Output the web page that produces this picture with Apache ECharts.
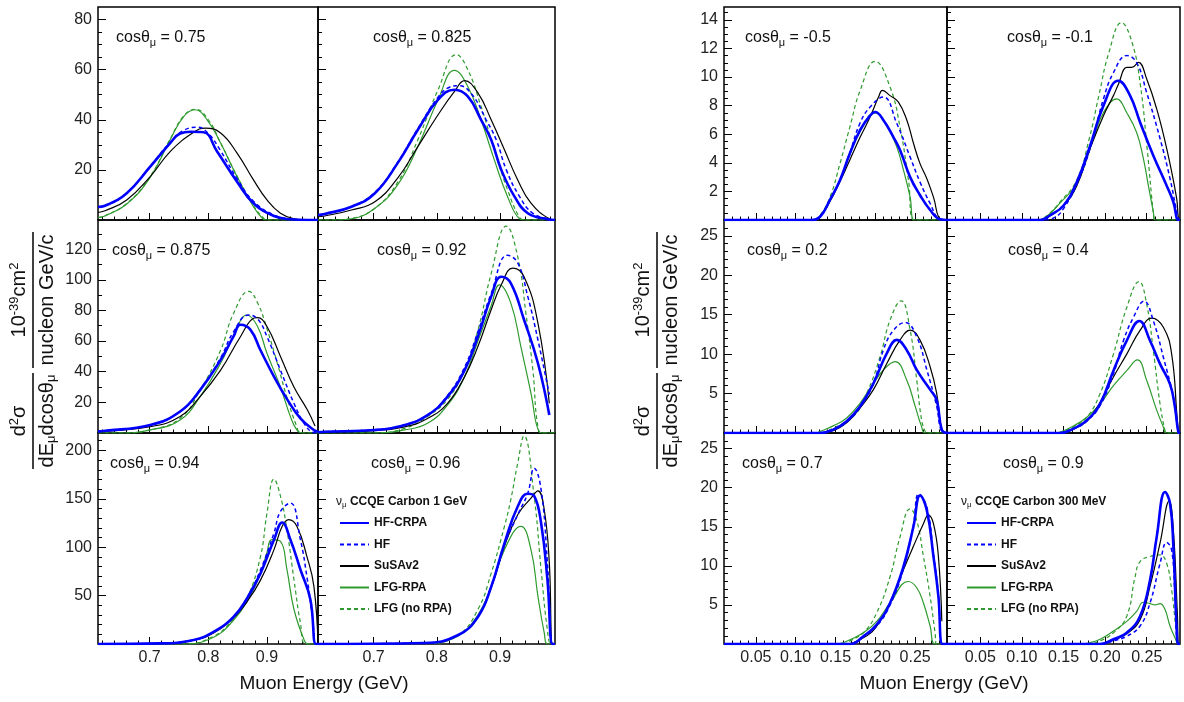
<!DOCTYPE html>
<html><head><meta charset="utf-8">
<script src="https://cdn.jsdelivr.net/npm/echarts@6/dist/echarts.min.js"></script>
<style>html,body{margin:0;padding:0;background:#fff}#c{width:1184px;height:702px}</style>
</head><body><div id="c"></div><script>
// ---------------- DATA ----------------
const models = ['HF-CRPA', 'HF', 'SuSAv2', 'LFG-RPA', 'LFG (no RPA)'];
const leftCos = ['0.75', '0.825', '0.875', '0.92', '0.94', '0.96'];
const rightCos = ['-0.5', '-0.1', '0.2', '0.4', '0.7', '0.9'];
const leftXLabels = [0.7, 0.8, 0.9];
const rightXLabels = [0.05, 0.10, 0.15, 0.20, 0.25];
const leftYLabels = [[20, 40, 60, 80], [20, 40, 60, 80, 100, 120], [50, 100, 150, 200]];
const rightYLabels = [[2, 4, 6, 8, 10, 12, 14], [5, 10, 15, 20, 25], [5, 10, 15, 20, 25]];
const leftLegendTitle = 'CCQE Carbon 1 GeV';
const rightLegendTitle = 'CCQE Carbon 300 MeV';

// 1 GeV, cos = 0.75  [E (GeV), d2sigma]
const c075 = [
  [[0.612,5.2],[0.624,5.7],[0.661,10.7],[0.701,21.3],[0.735,30.7],[0.752,34.5],[0.77,35.2],[0.792,35],[0.815,27.3],[0.849,15.3],[0.877,6.7],[0.912,1.6],[0.94,0.3],[0.97,0],[0.987,0]],
  [[0.612,5.2],[0.624,5.7],[0.661,10.8],[0.701,21.5],[0.735,31],[0.76,36],[0.782,37],[0.80,34.5],[0.82,28],[0.849,16.5],[0.877,7.5],[0.912,2],[0.94,0.4],[0.97,0],[0.987,0]],
  [[0.612,3],[0.624,3.7],[0.661,8],[0.701,17.3],[0.735,27.3],[0.775,35],[0.795,36.7],[0.821,34.7],[0.849,26.7],[0.877,16],[0.9,8],[0.923,2.7],[0.946,0.5],[0.97,0],[0.987,0]],
  [[0.612,1],[0.624,1.6],[0.661,6.4],[0.70,16.7],[0.735,32],[0.758,41.3],[0.777,44],[0.798,40],[0.821,30.7],[0.849,17.3],[0.877,5.3],[0.893,0.5],[0.90,0],[0.987,0]],
  [[0.612,1],[0.624,1.7],[0.661,6.6],[0.70,17],[0.735,32.3],[0.758,41.5],[0.778,44.2],[0.80,40],[0.822,30.3],[0.849,17.5],[0.877,5.8],[0.895,0.5],[0.90,0],[0.987,0]]
];
const c0825 = [
  [[0.612,2],[0.6225,2.4],[0.665,5.3],[0.702,10.7],[0.738,22.7],[0.77,36],[0.802,48],[0.828,52],[0.849,49.3],[0.87,40],[0.886,32],[0.902,20],[0.923,9.3],[0.944,2.7],[0.975,0.3],[0.987,0]],
  [[0.612,2],[0.6225,2.4],[0.665,5.4],[0.702,11],[0.738,23],[0.77,36.5],[0.802,49],[0.82,53],[0.835,53.6],[0.856,50],[0.878,40],[0.894,32],[0.91,20],[0.931,9.3],[0.952,2.7],[0.98,0.2],[0.987,0]],
  [[0.612,1.3],[0.6225,1.6],[0.665,4],[0.702,7.3],[0.738,16.7],[0.77,29.3],[0.802,42],[0.828,51.3],[0.844,55.6],[0.865,50.7],[0.886,40],[0.907,28],[0.928,16],[0.949,6.7],[0.978,0.5],[0.987,0]],
  [[0.612,0],[0.638,0],[0.665,0.5],[0.702,4.7],[0.738,14],[0.77,29.3],[0.802,48],[0.828,59.7],[0.849,53.3],[0.87,40],[0.891,24],[0.912,9.3],[0.931,0.5],[0.94,0],[0.987,0]],
  [[0.612,0],[0.638,0],[0.665,0.6],[0.702,4.7],[0.738,15],[0.77,32],[0.802,52],[0.831,66],[0.849,60],[0.87,45.3],[0.891,28],[0.912,12],[0.931,1],[0.94,0],[0.987,0]]
];
const c0875 = [
  [[0.612,1],[0.621,1.3],[0.701,5.2],[0.752,14],[0.786,28],[0.821,47.7],[0.843,63],[0.855,70.6],[0.872,67.3],[0.889,54],[0.912,36.8],[0.935,21.6],[0.957,9.6],[0.98,2],[0.987,1]],
  [[0.612,1],[0.621,1.3],[0.701,5.2],[0.752,14],[0.786,28.5],[0.821,49],[0.843,66],[0.869,77],[0.885,74],[0.9,63],[0.923,41],[0.946,19.4],[0.963,6.5],[0.978,0.5],[0.987,0]],
  [[0.612,0.7],[0.621,1],[0.701,4.1],[0.752,10.7],[0.786,23.7],[0.821,41],[0.855,63],[0.878,75],[0.884,75.3],[0.9,69.5],[0.923,50],[0.946,30],[0.969,15],[0.982,4.5]],
  [[0.612,0],[0.65,0],[0.701,2],[0.752,8.5],[0.786,23.7],[0.821,45.5],[0.843,63],[0.866,77],[0.884,69.5],[0.9,52],[0.923,30],[0.94,10.7],[0.951,2],[0.96,0],[0.987,0]],
  [[0.612,0],[0.65,0],[0.701,2],[0.752,9.6],[0.786,28],[0.821,54],[0.843,78],[0.869,92.4],[0.884,85],[0.9,68],[0.918,45],[0.935,22],[0.951,4],[0.957,0],[0.987,0]]
];
const c092 = [
  [[0.612,0.5],[0.6225,0.85],[0.702,2],[0.749,5.2],[0.786,11.8],[0.817,23.7],[0.844,41],[0.865,63],[0.886,89],[0.902,102],[0.917,97.8],[0.938,73.9],[0.96,45.5],[0.978,11.8]],
  [[0.612,0.5],[0.6225,0.85],[0.702,2],[0.749,5.2],[0.786,12],[0.817,24.5],[0.844,43],[0.865,66],[0.886,91],[0.912,116],[0.928,111],[0.944,89],[0.96,60.8],[0.978,25]],
  [[0.612,0.5],[0.702,1.6],[0.749,4],[0.786,9.6],[0.817,19.4],[0.844,36.8],[0.865,56.4],[0.886,80.4],[0.902,96.7],[0.92,107.6],[0.938,102],[0.96,71.7],[0.978,19.4]],
  [[0.612,0],[0.70,0],[0.749,2],[0.786,6.5],[0.817,18.3],[0.844,36.8],[0.865,60],[0.886,83],[0.899,96.7],[0.917,84.9],[0.933,56.4],[0.949,25.9],[0.962,0.8],[0.97,0],[0.987,0]],
  [[0.612,0],[0.70,0],[0.749,3],[0.786,11],[0.817,22],[0.844,41],[0.865,67],[0.886,104],[0.91,135],[0.928,115],[0.941,78],[0.952,41],[0.961,1.7],[0.97,0],[0.987,0]]
];
const c094 = [
  [[0.612,0],[0.718,0.6],[0.775,4.2],[0.809,12.4],[0.843,28],[0.866,47],[0.889,73],[0.912,107.8],[0.926,125.6],[0.94,107.8],[0.957,77],[0.974,46],[0.983,0],[0.987,0]],
  [[0.612,0],[0.718,0.6],[0.775,4.2],[0.809,12.4],[0.843,28],[0.866,48],[0.889,76.6],[0.912,114.7],[0.923,137],[0.94,145.6],[0.957,107.8],[0.968,70],[0.978,25],[0.983,0],[0.987,0]],
  [[0.612,0],[0.718,0.6],[0.775,4],[0.809,11.5],[0.843,27],[0.866,43.6],[0.889,66],[0.912,97.5],[0.926,121.6],[0.937,128.5],[0.951,121.6],[0.968,90.6],[0.98,59.6],[0.987,0]],
  [[0.612,0],[0.758,0],[0.809,7],[0.843,24.5],[0.866,43.6],[0.889,73],[0.9,94.6],[0.908,107.8],[0.923,106],[0.934,77],[0.946,35.9],[0.963,4.8],[0.97,0],[0.987,0]],
  [[0.612,0],[0.758,0],[0.809,8],[0.843,26],[0.866,47],[0.889,90.6],[0.9,135],[0.912,170.4],[0.923,152.8],[0.934,118.3],[0.946,66.6],[0.957,21.8],[0.966,0],[0.987,0]]
];
const c096 = [
  [[0.612,0],[0.78,1],[0.833,9],[0.865,28],[0.886,59],[0.907,104],[0.928,142],[0.944,155.2],[0.954,153],[0.965,125],[0.975,66.5],[0.983,0],[0.987,0]],
  [[0.612,0],[0.78,1],[0.833,9],[0.865,28],[0.886,60],[0.907,102.5],[0.928,133.6],[0.944,155.9],[0.954,181.7],[0.965,159.6],[0.975,83.6],[0.983,0],[0.987,0]],
  [[0.612,0],[0.78,1],[0.833,9],[0.865,28],[0.886,58],[0.907,101],[0.928,133.6],[0.949,150.8],[0.96,158.3],[0.97,138.7],[0.978,83.6],[0.983,0],[0.987,0]],
  [[0.612,0],[0.78,0.5],[0.833,8],[0.865,30],[0.886,59],[0.907,97.5],[0.933,121.6],[0.949,97.5],[0.96,49.3],[0.97,11.4],[0.975,0],[0.987,0]],
  [[0.612,0],[0.78,0.5],[0.833,9],[0.865,35.6],[0.886,73],[0.907,121.6],[0.917,149],[0.928,186.9],[0.938,215],[0.954,152.5],[0.965,76.8],[0.975,14.5],[0.981,0],[0.987,0]]
];

// 300 MeV
const cm05 = [
  [[0.01,0],[0.118,0],[0.1306,0.23],[0.143,1.4],[0.1557,2.8],[0.168,4.65],[0.181,6.3],[0.1934,7.3],[0.1997,7.56],[0.21,7],[0.2227,5.8],[0.231,4.9],[0.2437,3],[0.256,1.75],[0.2688,0.7],[0.2813,0.05],[0.29,0]],
  [[0.01,0],[0.118,0],[0.1306,0.23],[0.143,1.4],[0.1557,2.8],[0.168,4.7],[0.181,6.8],[0.1934,7.9],[0.21,8.6],[0.227,6.75],[0.2437,4.4],[0.256,2.67],[0.2688,1.16],[0.28,0.1],[0.29,0]],
  [[0.01,0],[0.118,0],[0.13,0.2],[0.143,1.3],[0.1557,2.7],[0.168,4.2],[0.181,5.8],[0.1934,7.2],[0.204,8.6],[0.209,9.07],[0.2185,8.7],[0.229,8.25],[0.2395,7],[0.248,5.35],[0.256,3.96],[0.2646,2.9],[0.273,1.6],[0.282,0.05],[0.29,0]],
  [[0.01,0],[0.118,0],[0.13,0.25],[0.143,1.4],[0.1557,2.8],[0.168,4.6],[0.181,6.2],[0.1997,7.5],[0.2143,6.6],[0.227,5.1],[0.2353,3.5],[0.2437,1.6],[0.2487,0],[0.29,0]],
  [[0.01,0],[0.118,0],[0.13,0.3],[0.143,1.6],[0.1557,3.96],[0.168,6.5],[0.181,9.07],[0.1997,11.1],[0.2185,9.3],[0.231,6.5],[0.2416,2.8],[0.2487,0],[0.29,0]]
];
const cm01 = [
  [[0.01,0],[0.122,0],[0.1338,0.33],[0.1498,1.0],[0.166,2.65],[0.182,5.2],[0.198,8.0],[0.216,9.74],[0.230,8.7],[0.242,6.84],[0.258,4.5],[0.274,2.4],[0.282,1.26],[0.288,0],[0.29,0]],
  [[0.01,0],[0.125,0],[0.14,0.2],[0.15,0.8],[0.166,2.5],[0.182,5.0],[0.198,8.47],[0.21,10.3],[0.226,11.5],[0.238,11.0],[0.25,8.9],[0.266,5.7],[0.278,2.9],[0.288,0.1],[0.29,0]],
  [[0.01,0],[0.122,0],[0.134,0.3],[0.15,1.0],[0.166,2.4],[0.182,5.0],[0.198,7.3],[0.21,8.7],[0.216,9.5],[0.226,10.67],[0.232,10.67],[0.24,11.02],[0.25,9.86],[0.262,7.77],[0.274,5.0],[0.286,1.5],[0.288,0.2],[0.29,0]],
  [[0.01,0],[0.118,0],[0.126,0.1],[0.146,1.2],[0.166,2.6],[0.186,5.7],[0.198,7.5],[0.214,8.47],[0.226,7.5],[0.238,6.1],[0.246,4.3],[0.252,2.4],[0.258,0.56],[0.26,0],[0.29,0]],
  [[0.01,0],[0.12,0],[0.13,0.3],[0.146,1.26],[0.166,2.8],[0.181,5.7],[0.1925,8.7],[0.2045,11.7],[0.2197,13.8],[0.2325,12.4],[0.2425,9.4],[0.2505,5.0],[0.2585,0.2],[0.26,0],[0.29,0]]
];
const c02 = [
  [[0.01,0],[0.13,0],[0.147,0.42],[0.164,1.5],[0.181,3.4],[0.1976,6.3],[0.2144,10.1],[0.227,11.8],[0.2395,10.5],[0.252,8],[0.2688,5.5],[0.277,4.2],[0.2835,0.4],[0.29,0]],
  [[0.01,0],[0.13,0],[0.147,0.4],[0.164,1.4],[0.181,3.3],[0.1976,6.3],[0.21,10.5],[0.2227,13],[0.2374,14],[0.252,12.2],[0.2647,8],[0.277,3.4],[0.2835,0.2],[0.29,0]],
  [[0.01,0],[0.13,0],[0.147,0.3],[0.164,1.3],[0.181,3.2],[0.1976,5.5],[0.2144,8.8],[0.2311,11.8],[0.2437,13.05],[0.256,11.8],[0.2688,8.4],[0.277,5.05],[0.2835,0.4],[0.29,0]],
  [[0.01,0],[0.125,0],[0.1306,0.2],[0.147,0.9],[0.164,1.9],[0.181,3.8],[0.1976,6.3],[0.212,8.2],[0.2248,9.05],[0.2395,6.7],[0.25,3.4],[0.258,0.84],[0.2625,0],[0.29,0]],
  [[0.01,0],[0.13,0],[0.147,0.6],[0.1725,2.1],[0.1893,5.05],[0.206,9.7],[0.2185,14.3],[0.2324,16.76],[0.2437,13.05],[0.252,6.7],[0.258,1.7],[0.2625,0.2],[0.264,0],[0.29,0]]
];
const c04 = [
  [[0.01,0],[0.1458,0],[0.162,0.55],[0.178,1.6],[0.194,3.7],[0.21,7.9],[0.226,11.7],[0.2412,14.2],[0.254,11.7],[0.266,8.76],[0.278,6.2],[0.2839,3.3],[0.288,0.1],[0.29,0]],
  [[0.01,0],[0.1458,0],[0.162,0.5],[0.178,1.5],[0.194,3.5],[0.21,7.5],[0.222,11.7],[0.234,14.65],[0.2468,16.7],[0.258,14.2],[0.27,9.6],[0.282,4.5],[0.2877,0.3],[0.29,0]],
  [[0.01,0],[0.1458,0],[0.162,0.5],[0.178,1.5],[0.194,3.9],[0.21,7.1],[0.226,10.0],[0.242,13.0],[0.256,14.57],[0.27,13.4],[0.28,10.0],[0.2868,1.6],[0.2884,0.1],[0.29,0]],
  [[0.01,0],[0.14,0],[0.1458,0.1],[0.162,0.9],[0.178,2.0],[0.194,3.7],[0.21,6.0],[0.226,7.9],[0.2388,9.26],[0.25,6.65],[0.262,2.9],[0.27,0.76],[0.2733,0],[0.29,0]],
  [[0.01,0],[0.14,0],[0.1458,0.1],[0.162,0.8],[0.178,2.0],[0.194,5.0],[0.21,10.0],[0.226,15.9],[0.2408,19.2],[0.25,16.3],[0.258,10.4],[0.266,3.7],[0.272,0.3],[0.274,0],[0.29,0]]
];
const c07 = [
  [[0.01,0],[0.1683,0],[0.185,1.0],[0.2018,2.5],[0.2185,5.25],[0.2353,9.9],[0.2478,15],[0.2562,19.0],[0.2647,17.1],[0.273,11.2],[0.2792,6.1],[0.2843,0],[0.29,0]],
  [[0.01,0],[0.1683,0],[0.185,0.9],[0.2018,2.3],[0.2185,5.0],[0.2353,9.6],[0.2478,15.2],[0.2545,19.2],[0.2647,17.5],[0.273,11.5],[0.2792,6.3],[0.2843,0],[0.29,0]],
  [[0.01,0],[0.16,0],[0.185,0.8],[0.2018,2.3],[0.2185,5.25],[0.2353,9.5],[0.2478,12.5],[0.2604,15.4],[0.2665,16.5],[0.273,15.4],[0.2792,11.2],[0.2835,2.9]],
  [[0.01,0],[0.15,0],[0.16,0.17],[0.185,1.44],[0.2018,2.9],[0.2185,5.25],[0.2416,8.0],[0.252,7.2],[0.2604,5.25],[0.2688,2.3],[0.275,0],[0.29,0]],
  [[0.01,0],[0.16,0],[0.1683,0.4],[0.185,1.44],[0.2018,4],[0.2185,8.6],[0.231,13.7],[0.2437,17.3],[0.252,15.8],[0.2604,11.2],[0.2688,6.1],[0.275,1.44],[0.277,0],[0.29,0]]
];
const c09 = [
  [[0.01,0],[0.194,0],[0.21,0.6],[0.226,1.44],[0.242,3.56],[0.254,8.2],[0.262,13.7],[0.272,19.45],[0.278,18],[0.282,12.5],[0.286,1.9],[0.288,0],[0.29,0]],
  [[0.01,0],[0.194,0],[0.21,0.4],[0.226,1.0],[0.242,2.3],[0.254,5.25],[0.266,10.3],[0.274,13.0],[0.28,12.0],[0.284,6.1],[0.2876,0],[0.29,0]],
  [[0.01,0],[0.194,0],[0.21,0.5],[0.226,1.3],[0.242,3.1],[0.254,7.4],[0.266,12.9],[0.277,18.3],[0.282,14.6],[0.2868,4],[0.2884,0],[0.29,0]],
  [[0.01,0],[0.17,0],[0.182,0.17],[0.194,0.6],[0.21,1.65],[0.226,2.9],[0.238,4.2],[0.246,5.34],[0.254,5.17],[0.26,5.0],[0.266,5.17],[0.272,4.4],[0.278,2.3],[0.284,0.8],[0.288,0],[0.29,0]],
  [[0.01,0],[0.18,0],[0.194,0.4],[0.21,1.44],[0.226,3.56],[0.236,8.6],[0.242,10.55],[0.254,11.2],[0.266,11.4],[0.274,10.3],[0.28,6.9],[0.2852,1.9],[0.288,0],[0.29,0]]
];

// ---------------- LAYOUT ----------------
const FONT = '"Liberation Sans", Arial, Helvetica, sans-serif';
const blocks = [
  { panels: [c075, c0825, c0875, c092, c094, c096], cos: leftCos,
    cols: [[98, 220], [318, 237]], xMin: 0.612, xMax: 0.987,
    yMax: [85, 139, 218], yLab: leftYLabels, yMinorStep: [5, 10, 10],
    xLab: leftXLabels, xDigits: 1, minorStep: 0.02,
    labelPos: [[116,38],[373,38],[112,251],[377,251],[110,464],[371,464]],
    titleX: 324, barX: 33, legendLeft: 339, legTitle: leftLegendTitle, legTitleX: 336 },
  { panels: [cm05, cm01, c02, c04, c07, c09], cos: rightCos,
    cols: [[724, 223], [947, 233]], xMin: 0.01, xMax: 0.29,
    yMax: [14.9, 27, 27], yLab: rightYLabels, yMinorStep: [0.5, 1, 1],
    xLab: rightXLabels, xDigits: 2, minorStep: 0.01,
    labelPos: [[745,38],[1007,38],[747,251],[1008,251],[742,464],[1003,464]],
    titleX: 944, barX: 657, legendLeft: 966, legTitle: rightLegendTitle, legTitleX: 961 }
];
const rows = [[7, 213], [220, 213], [433, 211]];
const styles = [
  { color: '#0000ff', width: 2.6, type: 'solid' },
  { color: '#0000ff', width: 1.5, type: [4, 3] },
  { color: '#000000', width: 1.2, type: 'solid' },
  { color: '#2f9a2f', width: 1.2, type: 'solid' },
  { color: '#2f9a2f', width: 1.2, type: [4, 3] }
];

function range(a, b, s) { const r = []; for (let v = a; v <= b + 1e-9; v += s) r.push(+v.toFixed(4)); return r; }

const grid = [], xAxis = [], yAxis = [], series = [], graphic = [];
blocks.forEach((B, b) => {
  const minorX = range(Math.ceil(B.xMin / B.minorStep) * B.minorStep, B.xMax, B.minorStep)
    .filter(v => v > B.xMin + 1e-4 && v < B.xMax - 1e-4 && !B.xLab.some(l => Math.abs(l - v) < 1e-6));
  B.panels.forEach((panel, p) => {
    const r = Math.floor(p / 2), c = p % 2;
    const gi = grid.length;
    grid.push({ left: B.cols[c][0], top: rows[r][0], width: B.cols[c][1], height: rows[r][1],
      show: true, borderColor: '#000', borderWidth: 1.5, backgroundColor: 'transparent', containLabel: false });
    xAxis.push({ gridIndex: gi, type: 'value', min: B.xMin, max: B.xMax, position: 'bottom',
      axisLine: { show: false }, splitLine: { show: false },
      axisTick: { show: true, inside: true, length: 7, customValues: B.xLab, lineStyle: { color: '#000', width: 1 } },
      axisLabel: { show: r === 2, customValues: B.xLab, margin: 6, fontSize: 16, color: '#222', fontFamily: FONT,
        formatter: v => v.toFixed(B.xDigits) } });
    xAxis.push({ gridIndex: gi, type: 'value', min: B.xMin, max: B.xMax, position: 'bottom',
      axisLine: { show: false }, splitLine: { show: false }, axisLabel: { show: false },
      axisTick: { show: true, inside: true, length: 3.5, customValues: minorX, lineStyle: { color: '#000', width: 1 } } });
    const ymax = B.yMax[r];
    const minorY = range(B.yMinorStep[r], ymax, B.yMinorStep[r]).filter(v => v < ymax && !B.yLab[r].some(l => Math.abs(l - v) < 1e-6));
    yAxis.push({ gridIndex: gi, type: 'value', min: 0, max: ymax, position: 'left',
      axisLine: { show: false }, splitLine: { show: false },
      axisTick: { show: true, inside: true, length: 8, customValues: B.yLab[r], lineStyle: { color: '#000', width: 1 } },
      axisLabel: { show: c === 0, customValues: B.yLab[r], margin: 6, fontSize: 16, color: '#222', fontFamily: FONT } });
    yAxis.push({ gridIndex: gi, type: 'value', min: 0, max: ymax, position: 'left',
      axisLine: { show: false }, splitLine: { show: false }, axisLabel: { show: false },
      axisTick: { show: true, inside: true, length: 4, customValues: minorY, lineStyle: { color: '#000', width: 1 } } });
    panel.forEach((pts, m) => {
      series.push({ type: 'line', name: models[m], xAxisIndex: 2 * gi, yAxisIndex: 2 * gi, data: pts,
        symbol: 'none', showSymbol: false, smooth: 0.45, clip: true, z: 10 - m,
        lineStyle: { color: styles[m].color, width: styles[m].width, type: styles[m].type },
        itemStyle: { color: styles[m].color } });
    });
    graphic.push({ type: 'text', x: B.labelPos[p][0], y: B.labelPos[p][1],
      style: { text: '{a|cosθ}{s|μ}{a| = ' + B.cos[p] + '}', verticalAlign: 'middle', align: 'left',
        rich: { a: { fontSize: 16, fontFamily: FONT, fill: '#111', lineHeight: 20 },
                s: { fontSize: 11, fontFamily: FONT, fill: '#111', lineHeight: 11, verticalAlign: 'bottom' } } } });
  });
  // x title
  graphic.push({ type: 'text', x: B.titleX, y: 684,
    style: { text: 'Muon Energy (GeV)', fontSize: 19, fontFamily: FONT, fill: '#111', align: 'center', verticalAlign: 'middle' } });
  // legend title
  graphic.push({ type: 'text', x: B.legTitleX, y: 502,
    style: { text: '{g|ν}{s|μ}{b| ' + B.legTitle + '}', verticalAlign: 'middle', align: 'left',
      rich: { g: { fontSize: 12, fontFamily: FONT, fill: '#111', lineHeight: 14 },
              s: { fontSize: 8, fontFamily: FONT, fill: '#111', lineHeight: 8, verticalAlign: 'bottom' },
              b: { fontSize: 12, fontWeight: 'bold', fontFamily: FONT, fill: '#111', lineHeight: 14 } } } });
  // y title (rotated fractions)
  const nrm = { fontSize: 20, fontFamily: FONT, fill: '#111', lineHeight: 22 };
  const sup = { fontSize: 13, fontFamily: FONT, fill: '#111', lineHeight: 13, verticalAlign: 'top' };
  const sub = { fontSize: 13, fontFamily: FONT, fill: '#111', lineHeight: 13, verticalAlign: 'bottom' };
  graphic.push({ type: 'group', x: B.barX, y: 300, rotation: Math.PI / 2, children: [
    { type: 'text', x: 0, y: -3, style: { text: '{n|10}{p|-39}{n|cm}{p|2}', align: 'center', verticalAlign: 'bottom', rich: { n: nrm, p: sup } } },
    { type: 'line', shape: { x1: -68, y1: 0, x2: 68, y2: 0 }, style: { stroke: '#111', lineWidth: 1.6 } },
    { type: 'text', x: 0, y: 3, style: { text: '{n|nucleon GeV/c}', align: 'center', verticalAlign: 'top', rich: { n: nrm } } }
  ] });
  graphic.push({ type: 'group', x: B.barX, y: 421, rotation: Math.PI / 2, children: [
    { type: 'text', x: 0, y: -3, style: { text: '{n|d}{p|2}{n|σ}', align: 'center', verticalAlign: 'bottom', rich: { n: nrm, p: sup } } },
    { type: 'line', shape: { x1: -48, y1: 0, x2: 48, y2: 0 }, style: { stroke: '#111', lineWidth: 1.6 } },
    { type: 'text', x: 0, y: 3, style: { text: '{n|dE}{u|μ}{n|dcosθ}{u|μ}', align: 'center', verticalAlign: 'top', rich: { n: nrm, u: sub } } }
  ] });
});

const legend = blocks.map(B => ({
  data: models, orient: 'vertical', left: B.legendLeft, top: 517, padding: 0,
  itemWidth: 29, itemHeight: 14, itemGap: 9.5,
  itemStyle: { opacity: 0 },
  textStyle: { fontSize: 12, fontWeight: 'bold', fontFamily: FONT, color: '#111' }, selectedMode: false
}));

const chart = echarts.init(document.getElementById('c'), null, { renderer: 'canvas' });
chart.setOption({ animation: false, backgroundColor: '#fff', grid, xAxis, yAxis, series, graphic, legend });
</script></body></html>
